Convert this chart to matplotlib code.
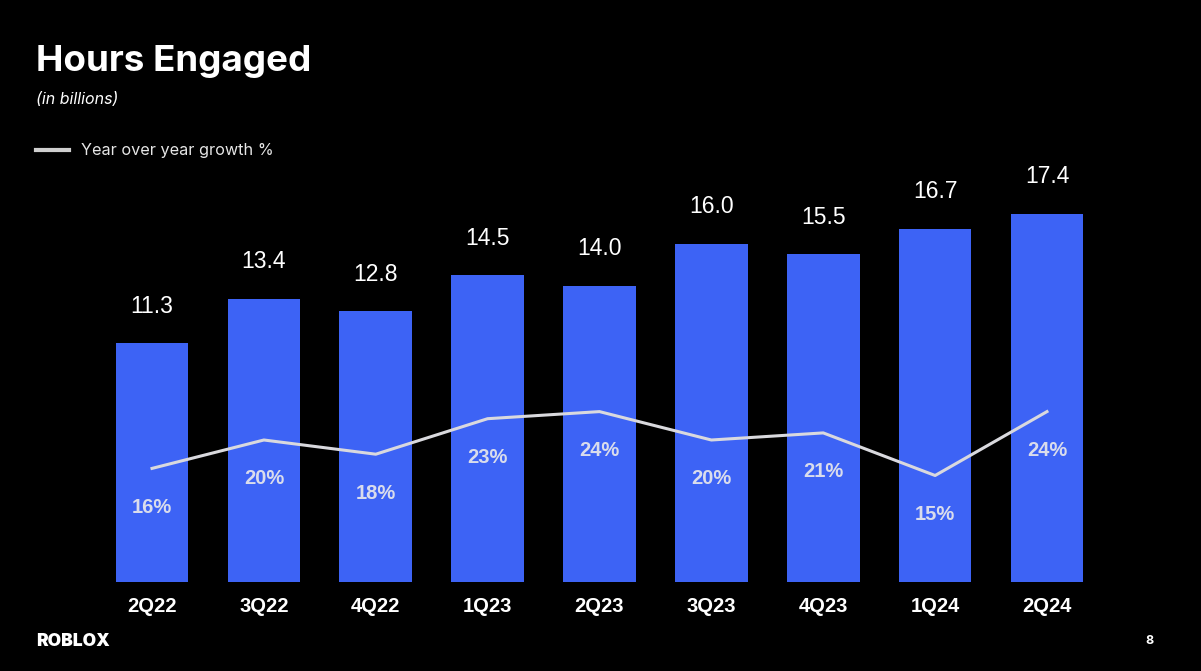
import matplotlib
matplotlib.use("Agg")
import matplotlib.pyplot as plt

quarters = ["2Q22", "3Q22", "4Q22", "1Q23", "2Q23", "3Q23", "4Q23", "1Q24", "2Q24"]
hours = [11.3, 13.4, 12.8, 14.5, 14.0, 16.0, 15.5, 16.7, 17.4]
growth = [16, 20, 18, 23, 24, 20, 21, 15, 24]

W, H = 1201, 671
fig = plt.figure(figsize=(W / 100, H / 100), dpi=100, facecolor="black")

# axes placement (pixels)
left_px, right_px = 84.9, 1114.1
bottom_px, top_px = 582, 159
ax = fig.add_axes([left_px / W, (H - bottom_px) / H, (right_px - left_px) / W, (bottom_px - top_px) / H])
ax.set_facecolor("black")
x = list(range(len(quarters)))
bar_color = "#3D63F5"
ax.bar(x, hours, width=0.65, color=bar_color, zorder=2)
ax.set_xlim(-0.6, 8.6)
ax.set_ylim(0, 20)
for s in ax.spines.values():
    s.set_visible(False)
ax.set_yticks([])
ax.set_xticks(x)
ax.set_xticklabels(quarters, color="white", fontsize=14.5, fontweight="bold", family="Liberation Sans")
ax.tick_params(axis="x", length=0, pad=11)

for xi, v in zip(x, hours):
    ax.annotate(f"{v:.1f}", (xi, v), xytext=(0, 37), textcoords="offset pixels",
                ha="center", va="center", color="white", fontsize=16.5, family="Liberation Sans")

ax2 = ax.twinx()
ax2.set_ylim(0, 20 * 21.15 / 7.1)
ax2.set_yticks([])
for s in ax2.spines.values():
    s.set_visible(False)
line_color = "#D9D9DE"
ax2.plot(x, growth, color=line_color, lw=2.2, zorder=3)
for xi, g in zip(x, growth):
    ax2.annotate(f"{g}%", (xi, g), xytext=(0, -39), textcoords="offset pixels",
                 ha="center", va="center", color="#D9DCEC", fontsize=14.5, fontweight="bold",
                 family="Liberation Sans")

# title and texts
fig.text(36 / W, 1 - 62 / H, "Hours Engaged", color="white", fontsize=26.5, fontweight="bold",
         family="Inter", ha="left", va="center")
fig.text(36 / W, 1 - 100 / H, "(in billions)", color="white", fontsize=11.5, style="italic",
         family="Inter", ha="left", va="center")
fig.lines.append(matplotlib.lines.Line2D([36 / W, 69 / W], [1 - 150 / H, 1 - 150 / H],
                                         transform=fig.transFigure, color="#CFCFCF", lw=3))
fig.text(81 / W, 1 - 150 / H, "Year over year growth %", color="#E6E6E6", fontsize=11.7,
         family="Inter", ha="left", va="center")
fig.text(36 / W, 1 - 642 / H, "ROBLOX", color="white", fontsize=12.5, fontweight="black",
         family="Inter", ha="left", va="center")
fig.text(1150 / W, 1 - 641 / H, "8", color="white", fontsize=9, fontweight="bold",
         family="Inter", ha="center", va="center")

fig.savefig("out.png", dpi=100, facecolor="black")
